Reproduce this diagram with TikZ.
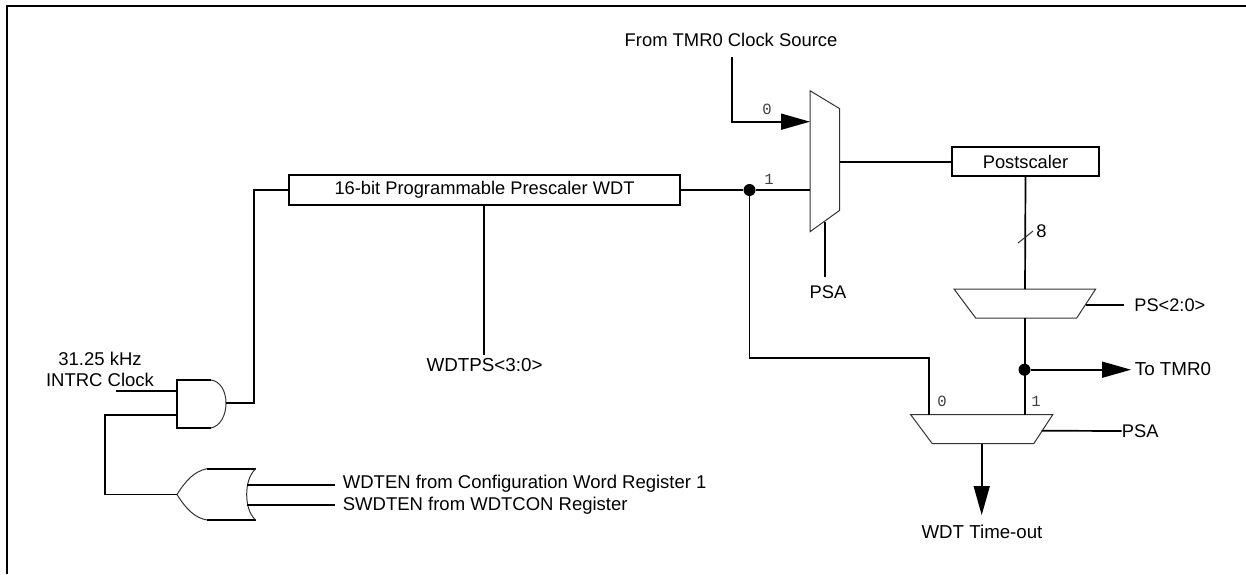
\documentclass[tikz,border=0pt]{standalone}
\usepackage{fontspec}
\setmainfont{Liberation Sans}
\setmonofont{Liberation Mono}
\usetikzlibrary{arrows.meta}

\tikzset{
  wire/.style={line width=0.85pt},
  outline/.style={line width=0.5pt,draw=black!80},
  boxed/.style={draw,line width=1pt,inner sep=0pt,font=\fontsize{9.15}{10.5}\selectfont},
  lab/.style={inner sep=0pt,align=center},
  bitlab/.style={inner sep=0pt,text=black!75,font=\ttfamily\fontsize{7.8}{8}\selectfont},
  dot/.style={circle,fill=black,inner sep=0pt,minimum size=6pt},
  bigarrow/.style={wire,-{Triangle[length=14.5pt,width=8pt]}},
}

\begin{document}
\begin{tikzpicture}[x=0.5pt,y=-0.5pt]
  \useasboundingbox (0,0) rectangle (1246,574);
  \draw[line width=1pt] (1246,5.5) -- (7,5.5) -- (7,574);

  % boxes
  \node[boxed,minimum width=195.5pt,minimum height=14.6pt] (prescaler) at (484.5,190) {16-bit Programmable Prescaler WDT};
  \node[boxed,minimum width=73.5pt,minimum height=14.5pt] (postscaler) at (1025.5,161.5) {Postscaler};

  % labels
  \foreach \name/\x/\y/\sz/\txt in {
    srclab/731/40/9.2/From TMR0 Clock Source,
    wdtpslab/484.5/365/9.4/WDTPS<3:0>,
    clklab/100/369.5/9.25/{31.25 kHz\\INTRC Clock},
    psalab/828/292/9.15/PSA,
    tdolab/982/532/9.35/WDT Time-out}{
    \node[lab,font=\fontsize{\sz}{10.5}\selectfont] (\name) at (\x,\y) {\txt};
  }
  \foreach \name/\x/\y/\sz/\txt in {
    wdtenlab/342.5/483.5/9.25/WDTEN from Configuration Word Register 1,
    swdtenlab/342.5/506/9.25/SWDTEN from WDTCON Register,
    pslab/1134/305/9.1/PS<2:0>,
    totmrlab/1134.5/369.5/9.4/To TMR0,
    psbotlab/1121.5/431/9.15/PSA,
    widthlab/1036/231/9.15/8}{
    \node[lab,anchor=west,font=\fontsize{\sz}{10.5}\selectfont] (\name) at (\x,\y) {\txt};
  }
  \foreach \name/\x/\y/\txt in {b0/767/109/0,b1/769/179/1,c0/942/401/0,c1/1036/401/1}{
    \node[bitlab] (\name) at (\x,\y) {\txt};
  }

  % muxes
  \draw[outline,fill=white] (810,90.7) -- (839.7,108.7) -- (839.7,210.3) -- (810,231.7) -- cycle;
  \draw[outline,fill=white] (954,289) -- (1095.7,289) -- (1076.7,318) -- (975.7,318) -- cycle;
  \draw[outline,fill=white] (910.7,414.7) -- (1052.7,414.7) -- (1033.7,443.7) -- (932.3,443.7) -- cycle;

  % gates
  \draw[wire] (211,380) -- (177,380) -- (177,428) -- (211,428);
  \draw[outline] (211,380) .. controls (220,381) and (226,391) .. (226,403) .. controls (226,416) and (220,426) .. (211,428);
  \draw[wire] (207,468.7) -- (255.7,468.7) (207,520) -- (255.7,520);
  \draw[outline] (177,494.5) .. controls (186,480) and (195,471) .. (207,468.7);
  \draw[outline] (177,494.5) .. controls (186,509) and (195,518) .. (207,520);
  \draw[outline] (255.7,468.7) .. controls (249,475) and (246.7,485) .. (246.7,494.5) .. controls (246.7,504) and (249,514) .. (255.7,520);

  % named ends of the wires
  \coordinate (andout) at (226,403);
  \coordinate (andin1) at (177,391);
  \coordinate (andin2) at (177,415);
  \coordinate (clkin) at (116,391);
  \coordinate (orout) at (177,494.5);
  \coordinate (orin1) at (247,485);
  \coordinate (orin2) at (247,505);
  \coordinate (wdten) at (335,485);
  \coordinate (swdten) at (335,505);
  \coordinate (wdtps) at (484,355);
  \coordinate (src) at (732,57);
  \coordinate (m1in0) at (810,121.7);
  \coordinate (m1in1) at (810,190);
  \coordinate (m1out) at (839.7,162);
  \coordinate (m1sel) at (825,222);
  \coordinate (m1psa) at (825,276.7);
  \coordinate (m2top) at (1025,289);
  \coordinate (m2bot) at (1025,318);
  \coordinate (m2sel) at (1085.7,304.7);
  \coordinate (m2ps) at (1123.7,304.7);
  \coordinate (m3in0) at (929.3,414.7);
  \coordinate (m3in1) at (1025,414.7);
  \coordinate (m3sel) at (1041.7,430.7);
  \coordinate (m3out) at (981.7,443.7);
  \coordinate (tdo) at (981.7,515);
  \coordinate (totmr) at (1131,369.7);
  \coordinate (sl1) at (1018,243);
  \coordinate (sl2) at (1033,231);

  \node[dot] (jn1) at (749.5,190) {};
  \node[dot] (jn2) at (1024.5,369.7) {};

  % connections
  \draw[wire] (clkin) -- (andin1);
  \draw[wire] (andin2) -| (105,494.5) -- (orout);
  \draw[wire] (andout) -| (253.7,190) -- (prescaler.west);
  \draw[wire] (orin1) -- (wdten);
  \draw[wire] (orin2) -- (swdten);
  \draw[wire] (prescaler.south -| wdtps) -- (wdtps);
  \draw[wire] (prescaler.east) -- (jn1) -- (m1in1);
  \draw[bigarrow] (src) |- (m1in0);
  \draw[wire] (m1out) -- (m1out -| postscaler.west);
  \draw[wire] (m1sel) -- (m1psa);
  \draw[wire] (jn1) |- (929.3,358) -- (m3in0);
  \draw[wire] (postscaler.south) -- (m2top);
  \draw[outline] (sl1) -- (sl2);
  \draw[wire] (m2sel) -- (m2ps);
  \draw[wire] (m2bot) -- (m3in1);
  \draw[bigarrow] (jn2) -- (totmr);
  \draw[wire] (m3sel) -- (psbotlab.west);
  \draw[bigarrow] (m3out) -- (tdo);
\end{tikzpicture}
\end{document}
